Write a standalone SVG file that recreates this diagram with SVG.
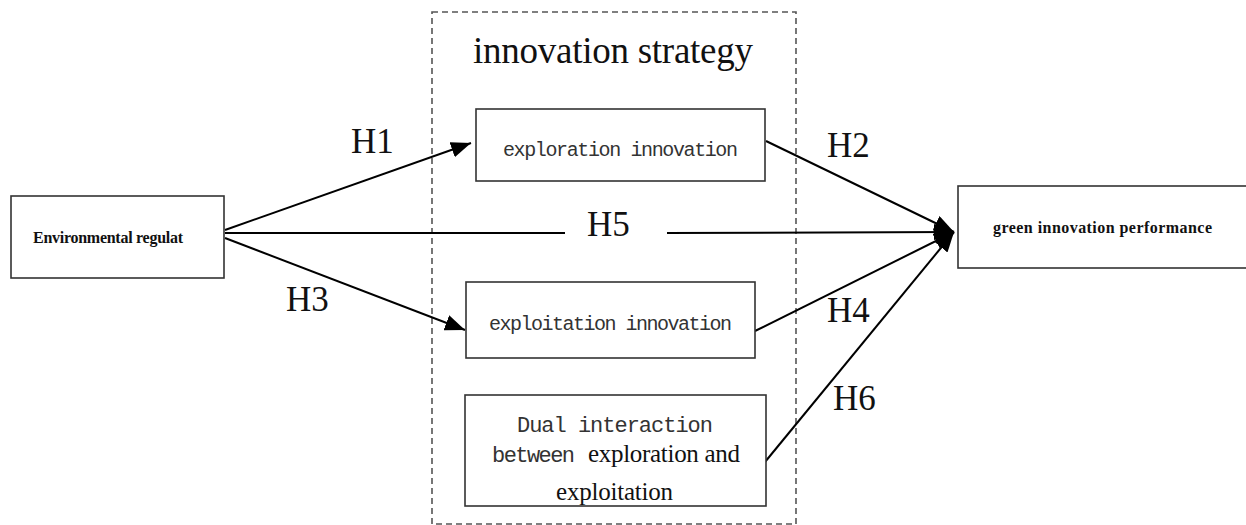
<svg xmlns="http://www.w3.org/2000/svg" width="1246" height="525" viewBox="0 0 1246 525">
<style>
.box{fill:#fff;stroke:#333;stroke-width:1.6}
.serif{font-family:"Liberation Serif","Times New Roman",serif;fill:#111}
.mono{font-family:"Liberation Mono","DejaVu Sans Mono",monospace;fill:#333}
.bold{font-family:"Liberation Serif","Times New Roman",serif;font-weight:bold;fill:#111}
.lbl{font-family:"Liberation Serif","Times New Roman",serif;font-size:35px;fill:#111}
.conn{stroke:#000;stroke-width:2;fill:none}
</style>
<defs>
<marker id="ah" markerUnits="userSpaceOnUse" markerWidth="22" markerHeight="16" refX="20" refY="8" orient="auto">
<path d="M0,0 L20,8 L0,16 Z" fill="#000"/>
</marker>
<clipPath id="dualclip"><rect x="465" y="395" width="301" height="110"/></clipPath>
</defs>
<rect id="strategy-frame" x="432" y="12" width="364" height="512" fill="none" stroke="#555" stroke-width="1.6" stroke-dasharray="6,4"/>
<text class="serif" x="613" y="63" font-size="37" text-anchor="middle" textLength="280">innovation strategy</text>
<g id="connectors">
<line class="conn" x1="225" y1="230" x2="471" y2="143" marker-end="url(#ah)"/>
<line class="conn" x1="225" y1="238" x2="465" y2="330" marker-end="url(#ah)"/>
<line class="conn" x1="225" y1="233" x2="565" y2="233"/>
<line class="conn" x1="667" y1="233" x2="954" y2="232" marker-end="url(#ah)"/>
<line class="conn" x1="766" y1="141" x2="954" y2="232" marker-end="url(#ah)"/>
<line class="conn" x1="755" y1="331" x2="954" y2="232" marker-end="url(#ah)"/>
<line class="conn" x1="765" y1="462" x2="954" y2="232" marker-end="url(#ah)"/>
<text class="lbl" x="351" y="153">H1</text>
<text class="lbl" x="827" y="157">H2</text>
<text class="lbl" x="286" y="311">H3</text>
<text class="lbl" x="827" y="322">H4</text>
<text class="lbl" x="587" y="236">H5</text>
<text class="lbl" x="833" y="410">H6</text>
</g>
<g id="env">
<rect class="box" x="11" y="196" width="213" height="82"/>
<text class="bold" x="33" y="243" font-size="16" textLength="150">Environmental regulat</text>
</g>
<g id="exploration">
<rect class="box" x="476" y="109" width="289" height="72"/>
<text class="mono" x="503" y="156" font-size="20" textLength="235">exploration innovation</text>
</g>
<g id="exploitation">
<rect class="box" x="466" y="282" width="289" height="76"/>
<text class="mono" x="489" y="330" font-size="20" textLength="243">exploitation innovation</text>
</g>
<g id="dual">
<rect class="box" x="465" y="395" width="301" height="111"/>
<text class="mono" x="517" y="432" font-size="22" textLength="196">Dual interaction</text>
<text class="mono" x="492" y="462" font-size="22" textLength="83">between</text>
<text class="serif" x="588" y="462" font-size="25" textLength="152">exploration and</text>
<text class="serif" x="556" y="500" font-size="25" textLength="117" clip-path="url(#dualclip)">exploitation</text>
</g>
<g id="green">
<rect class="box" x="958" y="186" width="300" height="82"/>
<text class="bold" x="993" y="233" font-size="16" textLength="219">green innovation performance</text>
</g>
</svg>
